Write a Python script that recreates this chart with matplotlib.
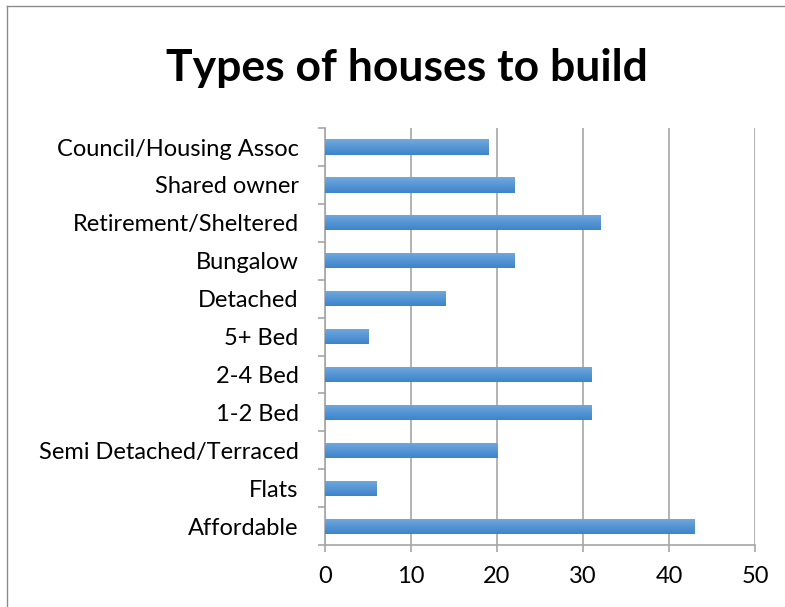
import numpy as np
import matplotlib
matplotlib.use("Agg")
import matplotlib.pyplot as plt
from matplotlib.colors import LinearSegmentedColormap
from matplotlib.patches import Rectangle

# data, bottom to top as plotted
categories = ['Affordable', 'Flats', 'Semi Detached/Terraced', '1-2 Bed', '2-4 Bed',
              '5+ Bed', 'Detached', 'Bungalow', 'Retirement/Sheltered',
              'Shared owner', 'Council/Housing Assoc']
values = [43, 6, 20, 31, 31, 5, 14, 22, 32, 22, 19]
xticks = [0, 10, 20, 30, 40, 50]

plt.rcParams['font.family'] = ['Lato', 'DejaVu Sans']

fig = plt.figure(figsize=(7.85, 6.07), dpi=100)
ax = fig.add_axes([0.414, 0.102, 0.548, 0.687])

grey = '#a6a6a6'
bar_h = 0.4
y = np.arange(len(categories))
bars = ax.barh(y, values, height=bar_h, color='#4a8ed3', zorder=2)

# gradient fill like the Excel bars (lighter at top, darker at bottom)
cmap = LinearSegmentedColormap.from_list('bar', ['#3c84cb', '#72a9de'])
grad = np.linspace(0, 1, 64).reshape(-1, 1)
for b in bars:
    x0, y0 = b.get_x(), b.get_y()
    w, h = b.get_width(), b.get_height()
    im = ax.imshow(grad, cmap=cmap, aspect='auto', origin='lower',
                   extent=(x0, x0 + w, y0, y0 + h), zorder=3)
    im.set_clip_path(Rectangle((x0, y0), w, h, transform=ax.transData))

ax.set_xlim(0, 50)
ax.set_ylim(-0.5, len(categories) - 0.5)
ax.set_xticks(xticks)
ax.set_xticklabels([str(t) for t in xticks], fontsize=17)

# category labels centred on bars, tick marks on boundaries
ax.set_yticks(np.arange(-0.5, len(categories), 1.0))
ax.set_yticklabels([])
ax.set_yticks(y, minor=True)
ax.set_yticklabels(categories, minor=True, fontsize=17)
ax.tick_params(axis='y', which='minor', length=0, pad=19)
ax.tick_params(axis='y', which='major', length=5, color=grey, width=1.2)
ax.tick_params(axis='x', length=5, color=grey, width=1.2, pad=10)

ax.grid(axis='x', color=grey, linewidth=1.2, zorder=0)
ax.set_axisbelow(True)
for s in ['top', 'right']:
    ax.spines[s].set_visible(False)
for s in ['left', 'bottom']:
    ax.spines[s].set_color(grey)
    ax.spines[s].set_linewidth(1.2)

fig.text(0.518, 0.888, 'Types of houses to build', ha='center', va='center',
         fontsize=32, fontweight='bold')

# chart border like the Excel frame
fig.add_artist(plt.Line2D([0.009, 0.009], [0, 0.99], color='#8c8c8c', lw=1,
                          transform=fig.transFigure))
fig.add_artist(plt.Line2D([0.009, 1], [0.99, 0.99], color='#8c8c8c', lw=1,
                          transform=fig.transFigure))

fig.savefig('out.png', dpi=100)
